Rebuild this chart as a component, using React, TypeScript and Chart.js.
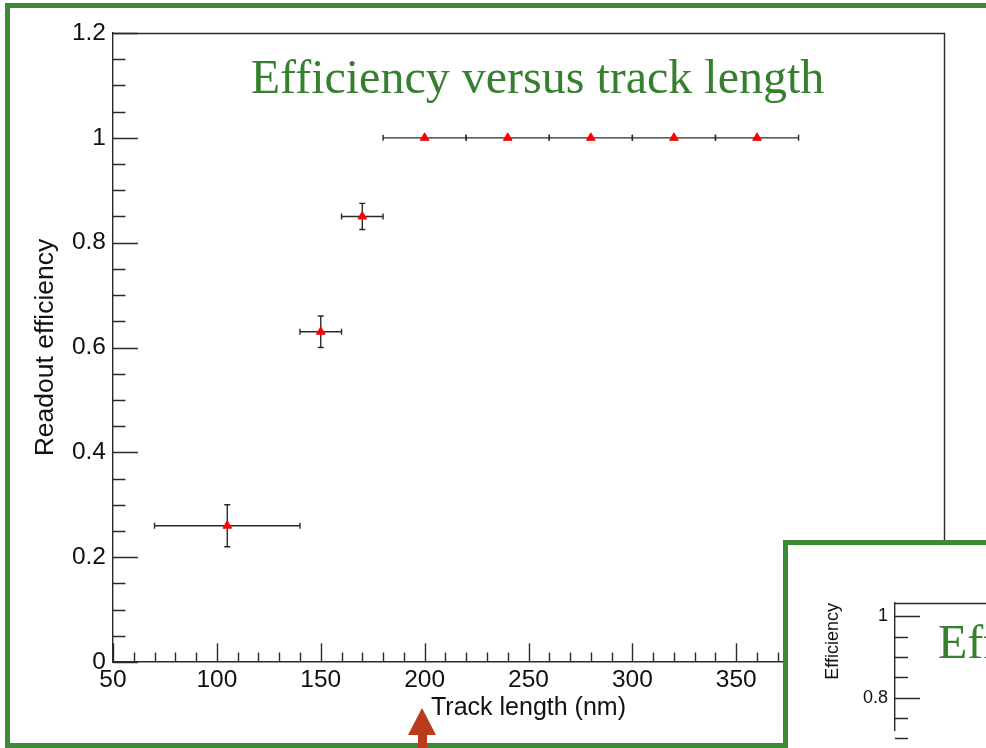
import React, { useEffect, useRef } from "react";
import { Chart, registerables } from "chart.js";

Chart.register(...registerables);

// Binned readout efficiency: bin centre, bin half-width, efficiency, efficiency uncertainty
const trackLength = [105, 150, 170, 200, 240, 280, 320, 360];
const trackHalfWidth = [35, 10, 10, 20, 20, 20, 20, 20];
const efficiency = [0.26, 0.63, 0.85, 1, 1, 1, 1, 1];
const efficiencyErr = [0.04, 0.03, 0.025, 0, 0, 0, 0, 0];

// Axis tick labels
const xTickValues = [50, 100, 150, 200, 250, 300, 350, 400, 450];
const yTickValues = [0, 0.2, 0.4, 0.6, 0.8, 1, 1.2];
const insetTickValues = [0.8, 1];

const TITLE = "Efficiency versus track length";
const X_TITLE = "Track length (nm)";
const Y_TITLE = "Readout efficiency";
const INSET_Y_TITLE = "Efficiency";

const W = 986;
const H = 748;
const INSET_LEFT = 783;
const INSET_TOP = 540;
const INSET_W = W - INSET_LEFT;
const INSET_H = H - INSET_TOP;

const SANS = '"Liberation Sans", Arial, sans-serif';
const SERIF = '"Liberation Serif", "Times New Roman", serif';
const AXIS_COLOR = "#2a2a2a";
const FRAME_GREEN = "#3b8a35";
const TITLE_GREEN = "#357f2f";
const ARROW_COLOR = "#b93c1d";

const fmt = (v: number) => String(Math.round(v * 100) / 100);

// ROOT-style ticks that point into the plotting area, with minor subdivisions
function drawInnerTicks(
  ctx: CanvasRenderingContext2D,
  scale: any,
  majors: number[],
  subdivisions: number,
  majorLen: number,
  minorLen: number,
  horizontal: boolean,
  base: number
) {
  ctx.beginPath();
  for (let i = 0; i < majors.length; i++) {
    const a = majors[i];
    const b = i + 1 < majors.length ? majors[i + 1] : null;
    const steps = b === null ? 1 : subdivisions;
    for (let k = 0; k < steps; k++) {
      const v = b === null ? a : a + ((b - a) * k) / subdivisions;
      const p = Math.round(scale.getPixelForValue(v)) + 0.5;
      const len = k === 0 ? majorLen : minorLen;
      if (horizontal) {
        ctx.moveTo(p, base);
        ctx.lineTo(p, base - len);
      } else {
        ctx.moveTo(base, p);
        ctx.lineTo(base + len, p);
      }
    }
  }
  ctx.stroke();
}

const CAP = 3;

const mainDecor = {
  id: "mainDecor",
  beforeDraw(chart: any) {
    const { ctx } = chart;
    ctx.save();
    ctx.fillStyle = "#ffffff";
    ctx.fillRect(0, 0, chart.width, chart.height);
    ctx.restore();
  },
  beforeDatasetsDraw(chart: any) {
    const { ctx } = chart;
    const { x, y } = chart.scales;
    ctx.save();
    ctx.strokeStyle = AXIS_COLOR;
    ctx.lineWidth = 1.4;
    trackLength.forEach((t, i) => {
      const px = x.getPixelForValue(t);
      const py = y.getPixelForValue(efficiency[i]);
      const x0 = x.getPixelForValue(t - trackHalfWidth[i]);
      const x1 = x.getPixelForValue(t + trackHalfWidth[i]);
      ctx.beginPath();
      ctx.moveTo(x0, py);
      ctx.lineTo(x1, py);
      ctx.moveTo(x0, py - CAP);
      ctx.lineTo(x0, py + CAP);
      ctx.moveTo(x1, py - CAP);
      ctx.lineTo(x1, py + CAP);
      if (efficiencyErr[i] > 0) {
        const y0 = y.getPixelForValue(efficiency[i] - efficiencyErr[i]);
        const y1 = y.getPixelForValue(efficiency[i] + efficiencyErr[i]);
        ctx.moveTo(px, y0);
        ctx.lineTo(px, y1);
        ctx.moveTo(px - CAP, y0);
        ctx.lineTo(px + CAP, y0);
        ctx.moveTo(px - CAP, y1);
        ctx.lineTo(px + CAP, y1);
      }
      ctx.stroke();
    });
    ctx.restore();
  },
  afterDraw(chart: any) {
    const { ctx, chartArea: a } = chart;
    const { x, y } = chart.scales;
    ctx.save();
    ctx.strokeStyle = AXIS_COLOR;
    ctx.lineWidth = 1.4;
    const plotH = a.bottom - a.top;
    const plotW = a.right - a.left;
    drawInnerTicks(ctx, x, xTickValues, 5, plotH * 0.03, plotH * 0.015, true, a.bottom);
    drawInnerTicks(ctx, y, yTickValues, 4, plotW * 0.03, plotW * 0.015, false, a.left);

    // frame: top and right edges
    ctx.beginPath();
    ctx.moveTo(a.left, Math.round(a.top) + 0.5);
    ctx.lineTo(Math.round(a.right) + 0.5, Math.round(a.top) + 0.5);
    ctx.lineTo(Math.round(a.right) + 0.5, a.bottom);
    ctx.stroke();

    // title inside the frame
    ctx.fillStyle = TITLE_GREEN;
    ctx.font = `48px ${SERIF}`;
    ctx.textAlign = "center";
    ctx.textBaseline = "alphabetic";
    ctx.fillText(TITLE, 537.5, 93);

    // slide frame
    ctx.strokeStyle = FRAME_GREEN;
    ctx.lineWidth = 5;
    ctx.strokeRect(7.5, 5.5, 1200, 740);

    // pointer arrow
    ctx.fillStyle = ARROW_COLOR;
    ctx.beginPath();
    ctx.moveTo(422, 708);
    ctx.lineTo(436, 735);
    ctx.lineTo(427, 735);
    ctx.lineTo(427, 760);
    ctx.lineTo(418, 760);
    ctx.lineTo(418, 735);
    ctx.lineTo(408, 735);
    ctx.closePath();
    ctx.fill();
    ctx.restore();
  },
};

const insetDecor = {
  id: "insetDecor",
  beforeDraw(chart: any) {
    const { ctx } = chart;
    ctx.save();
    ctx.fillStyle = "#ffffff";
    ctx.fillRect(0, 0, chart.width, chart.height);
    ctx.restore();
  },
  afterDraw(chart: any) {
    const { ctx, chartArea: a } = chart;
    const { y } = chart.scales;
    ctx.save();
    ctx.strokeStyle = AXIS_COLOR;
    ctx.lineWidth = 1.4;
    drawInnerTicks(ctx, y, [0.6, 0.8, 1], 4, 25, 13, false, a.left);
    ctx.beginPath();
    ctx.moveTo(a.left, Math.round(a.top) + 0.5);
    ctx.lineTo(a.right + 10, Math.round(a.top) + 0.5);
    ctx.stroke();

    ctx.fillStyle = TITLE_GREEN;
    ctx.font = `48px ${SERIF}`;
    ctx.textAlign = "left";
    ctx.textBaseline = "alphabetic";
    ctx.fillText(TITLE, 155, 118);

    ctx.strokeStyle = FRAME_GREEN;
    ctx.lineWidth = 5;
    ctx.strokeRect(2.5, 2.5, 600, 600);
    ctx.restore();
  },
};

export default function App() {
  const mainRef = useRef<HTMLCanvasElement>(null);
  const insetRef = useRef<HTMLCanvasElement>(null);

  useEffect(() => {
    const main = new Chart(mainRef.current as HTMLCanvasElement, {
      type: "scatter",
      data: {
        datasets: [
          {
            label: Y_TITLE,
            data: trackLength.map((t, i) => ({ x: t, y: efficiency[i] })),
            pointStyle: "triangle",
            pointRadius: 5,
            pointBackgroundColor: "#ff0000",
            pointBorderColor: "#ff0000",
            pointBorderWidth: 1,
          },
        ],
      },
      options: {
        animation: false,
        responsive: false,
        events: [],
        layout: { padding: { left: 0, top: 33, right: 42, bottom: 0 } },
        plugins: { legend: { display: false }, tooltip: { enabled: false }, title: { display: false } },
        scales: {
          x: {
            type: "linear",
            min: 50,
            max: 450,
            afterBuildTicks: (s: any) => {
              s.ticks = xTickValues.map((value) => ({ value }));
            },
            afterFit: (s: any) => {
              s.height = 86;
            },
            grid: { display: false, drawTicks: false },
            border: { display: true, color: AXIS_COLOR, width: 1.4 },
            ticks: {
              padding: 4,
              color: "#111",
              font: { family: SANS, size: 24.5 },
              maxRotation: 0,
              autoSkip: false,
              callback: (v: any) => fmt(Number(v)),
            },
            title: {
              display: true,
              text: X_TITLE,
              color: "#111",
              font: { family: SANS, size: 25 },
              padding: { top: 0, bottom: 25 },
            },
          },
          y: {
            type: "linear",
            min: 0,
            max: 1.2,
            afterBuildTicks: (s: any) => {
              s.ticks = yTickValues.map((value) => ({ value }));
            },
            afterFit: (s: any) => {
              s.width = 113;
            },
            grid: { display: false, drawTicks: false },
            border: { display: true, color: AXIS_COLOR, width: 1.4 },
            ticks: {
              padding: 7,
              color: "#111",
              font: { family: SANS, size: 24.5 },
              autoSkip: false,
              callback: (v: any) => fmt(Number(v)),
            },
            title: {
              display: true,
              text: Y_TITLE,
              color: "#111",
              font: { family: SANS, size: 26.5 },
              padding: { top: 30, bottom: 0 },
            },
          },
        },
      },
      plugins: [mainDecor],
    } as any);

    const inset = new Chart(insetRef.current as HTMLCanvasElement, {
      type: "scatter",
      data: { datasets: [{ data: [] }] },
      options: {
        animation: false,
        responsive: false,
        events: [],
        layout: { padding: { left: 0, top: 63, right: 0, bottom: 0 } },
        plugins: { legend: { display: false }, tooltip: { enabled: false }, title: { display: false } },
        scales: {
          x: { type: "linear", display: false, min: 0, max: 1 },
          y: {
            type: "linear",
            min: 0.72,
            max: 1.033,
            afterBuildTicks: (s: any) => {
              s.ticks = insetTickValues.map((value) => ({ value }));
            },
            afterFit: (s: any) => {
              s.width = 112;
            },
            grid: { display: false, drawTicks: false },
            border: { display: true, color: AXIS_COLOR, width: 1.4 },
            ticks: {
              padding: 7,
              color: "#111",
              font: { family: SANS, size: 18 },
              autoSkip: false,
              callback: (v: any) => fmt(Number(v)),
            },
            title: {
              display: true,
              text: INSET_Y_TITLE,
              align: "end",
              color: "#111",
              font: { family: SANS, size: 18 },
              padding: { top: 39, bottom: 0 },
            },
          },
        },
      },
      plugins: [insetDecor],
    } as any);

    return () => {
      main.destroy();
      inset.destroy();
    };
  }, []);

  return (
    <div
      style={{
        position: "fixed",
        left: 0,
        top: 0,
        width: W,
        height: H,
        overflow: "hidden",
        background: "#ffffff",
      }}
    >
      <canvas
        ref={mainRef}
        width={W}
        height={H}
        style={{ position: "absolute", left: 0, top: 0, width: W, height: H }}
      />
      <canvas
        ref={insetRef}
        width={INSET_W}
        height={INSET_H}
        style={{ position: "absolute", left: INSET_LEFT, top: INSET_TOP, width: INSET_W, height: INSET_H }}
      />
    </div>
  );
}
